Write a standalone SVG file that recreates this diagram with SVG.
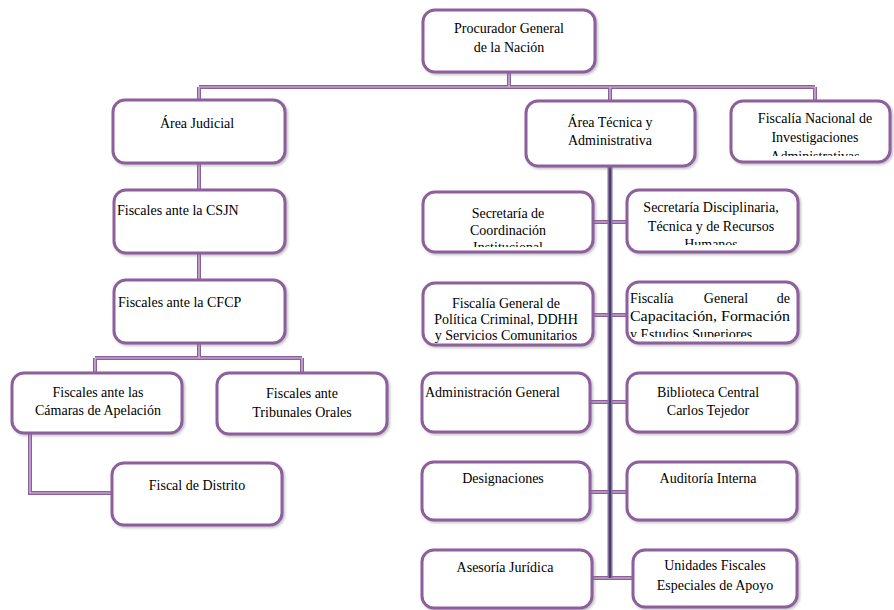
<svg xmlns="http://www.w3.org/2000/svg" width="894" height="610" viewBox="0 0 894 610">
<style>
.box{fill:#fff;stroke:#8d5e9c;stroke-width:3;filter:url(#sh)}
.t{font-family:"Liberation Serif","Times New Roman",serif;font-size:14px;fill:#000}
.c{text-anchor:middle}
.lo{fill:none;stroke:#8d5e9c;stroke-width:4}
.li{fill:none;stroke:#d9c8df;stroke-width:1.2}
.tro{fill:none;stroke:#8a6aa0;stroke-width:5}
.tri{fill:none;stroke:#3f4566;stroke-width:2}
</style>
<defs>
<filter id="sh" x="-10%" y="-10%" width="130%" height="130%">
<feDropShadow dx="1.5" dy="1.5" stdDeviation="1.2" flood-color="#777" flood-opacity="0.45"/>
</filter>
<clipPath id="cp10"><rect x="423" y="192" width="170" height="55"/></clipPath>
<clipPath id="cp11"><rect x="627" y="190" width="171" height="55"/></clipPath>
<clipPath id="cp13"><rect x="627" y="282" width="171" height="55"/></clipPath>
<clipPath id="cp4"><rect x="731" y="101" width="159" height="55"/></clipPath>
</defs>
<g id="connectors">
<path class="lo" d="M509 72V87M199 87H815M199 87V100M610 87V101M815 87V101M199 163V190M199 253V280M199 343V358M95 358H302M95 358V373M302 358V373M30 433V493H112M593 222H627M593 315H627M590 402H627M590 492H627M592 578H633"/>
<path class="li" d="M509 72V87M199 87H815M199 87V100M610 87V101M815 87V101M199 163V190M199 253V280M199 343V358M95 358H302M95 358V373M302 358V373M30 433V493H112M593 222H627M593 315H627M590 402H627M590 492H627M592 578H633"/>
<path class="tro" d="M610 166V578"/>
<path class="tri" d="M610 166V578"/>
</g>
<g id="pgn"><rect class="box" x="423" y="10" width="172" height="62" rx="12"/>
<text class="t c" x="509" y="33">Procurador General</text><text class="t c" x="509" y="52">de la Nación</text></g>
<g id="area-judicial"><rect class="box" x="113" y="100" width="172" height="63" rx="12"/>
<text class="t c" x="197" y="128">Área Judicial</text></g>
<g id="area-tecnica"><rect class="box" x="526" y="101" width="169" height="65" rx="12"/>
<text class="t c" x="610" y="127">Área Técnica y</text><text class="t c" x="610" y="145">Administrativa</text></g>
<g id="fiscalia-nacional"><rect class="box" x="731" y="101" width="159" height="61" rx="12"/>
<g clip-path="url(#cp4)"><text class="t c" x="815" y="123">Fiscalía Nacional de</text><text class="t c" x="815" y="142">Investigaciones</text><text class="t c" x="815" y="161">Administrativas</text></g></g>
<g id="csjn"><rect class="box" x="114" y="190" width="171" height="63" rx="12"/>
<text class="t" x="117" y="215">Fiscales ante la CSJN</text></g>
<g id="cfcp"><rect class="box" x="114" y="280" width="171" height="63" rx="12"/>
<text class="t" x="118" y="307">Fiscales ante la CFCP</text></g>
<g id="camaras"><rect class="box" x="12" y="373" width="170" height="60" rx="12"/>
<text class="t c" x="98" y="397">Fiscales ante las</text><text class="t c" x="98" y="415">Cámaras de Apelación</text></g>
<g id="tribunales"><rect class="box" x="217" y="373" width="170" height="61" rx="12"/>
<text class="t c" x="302" y="398">Fiscales ante</text><text class="t c" x="302" y="417">Tribunales Orales</text></g>
<g id="distrito"><rect class="box" x="112" y="463" width="170" height="62" rx="12"/>
<text class="t c" x="197" y="490">Fiscal de Distrito</text></g>
<g id="sec-coord"><rect class="box" x="423" y="192" width="170" height="60" rx="12"/>
<g clip-path="url(#cp10)"><text class="t c" x="508" y="218">Secretaría de</text><text class="t c" x="508" y="235">Coordinación</text><text class="t c" x="508" y="252">Institucional</text></g></g>
<g id="sec-disc"><rect class="box" x="627" y="190" width="171" height="62" rx="12"/>
<g clip-path="url(#cp11)"><text class="t c" x="711" y="212">Secretaría Disciplinaria,</text><text class="t c" x="711" y="231">Técnica y de Recursos</text><text class="t c" x="711" y="249">Humanos</text></g></g>
<g id="pol-crim"><rect class="box" x="423" y="283" width="170" height="62" rx="12"/>
<text class="t c" x="506" y="308">Fiscalía General de</text><text class="t c" x="506" y="324">Política Criminal, DDHH</text><text class="t c" x="506" y="340">y Servicios Comunitarios</text></g>
<g id="capacitacion"><rect class="box" x="627" y="282" width="171" height="61" rx="12"/>
<g clip-path="url(#cp13)"><text class="t" x="630" y="303">Fiscalía</text><text class="t c" x="726" y="303">General</text><text class="t" x="790" y="303" text-anchor="end">de</text><text class="t" x="630" y="321" textLength="160" lengthAdjust="spacingAndGlyphs">Capacitación, Formación</text><text class="t" x="630" y="339">y Estudios Superiores</text></g></g>
<g id="administracion"><rect class="box" x="422" y="373" width="168" height="59" rx="12"/>
<text class="t" x="425" y="397">Administración General</text></g>
<g id="biblioteca"><rect class="box" x="627" y="373" width="170" height="59" rx="12"/>
<text class="t c" x="708" y="397">Biblioteca Central</text><text class="t c" x="708" y="415">Carlos Tejedor</text></g>
<g id="designaciones"><rect class="box" x="422" y="462" width="168" height="58" rx="12"/>
<text class="t c" x="503" y="483">Designaciones</text></g>
<g id="auditoria"><rect class="box" x="627" y="462" width="170" height="58" rx="12"/>
<text class="t c" x="708" y="483">Auditoría Interna</text></g>
<g id="asesoria"><rect class="box" x="422" y="550" width="170" height="58" rx="12"/>
<text class="t c" x="505" y="572">Asesoría Jurídica</text></g>
<g id="unidades"><rect class="box" x="633" y="550" width="164" height="57" rx="12"/>
<text class="t c" x="715" y="570">Unidades Fiscales</text><text class="t c" x="715" y="590">Especiales de Apoyo</text></g>
</svg>
